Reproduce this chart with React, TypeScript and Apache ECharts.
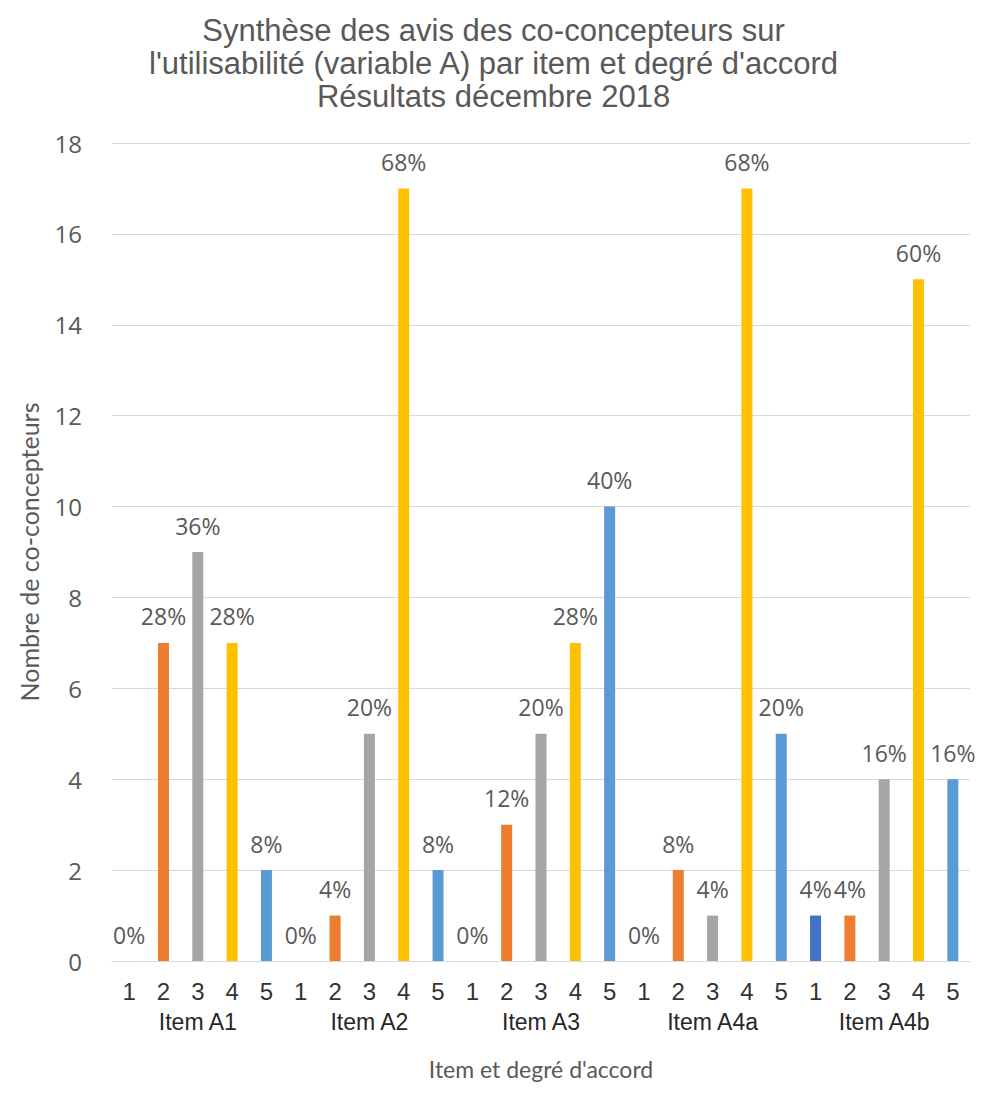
import React, { useEffect, useRef } from "react";
import * as echarts from "echarts";

const items = ["Item A1", "Item A2", "Item A3", "Item A4a", "Item A4b"];
const degrees = ["1", "2", "3", "4", "5"];
const countsA1 = [0, 7, 9, 7, 2];
const countsA2 = [0, 1, 5, 17, 2];
const countsA3 = [0, 3, 5, 7, 10];
const countsA4a = [0, 2, 1, 17, 5];
const countsA4b = [1, 1, 4, 15, 4];
const pctA1 = ["0%", "28%", "36%", "28%", "8%"];
const pctA2 = ["0%", "4%", "20%", "68%", "8%"];
const pctA3 = ["0%", "12%", "20%", "28%", "40%"];
const pctA4a = ["0%", "8%", "4%", "68%", "20%"];
const pctA4b = ["4%", "4%", "16%", "60%", "16%"];
const degreeColors = ["#4472C4", "#ED7D31", "#A5A5A5", "#FFC000", "#5B9BD5"];

export default function App() {
  const ref = useRef<HTMLDivElement>(null);
  useEffect(() => {
    if (!ref.current) return;
    const chart = echarts.init(ref.current, undefined, { renderer: "svg" });
    const allCounts = [countsA1, countsA2, countsA3, countsA4a, countsA4b];
    const allPct = [pctA1, pctA2, pctA3, pctA4a, pctA4b];
    const cats: string[] = [];
    const data: any[] = [];
    allCounts.forEach((arr, gi) => {
      arr.forEach((v, di) => {
        cats.push(degrees[di]);
        data.push({
          value: v,
          pct: allPct[gi][di],
          itemStyle: { color: degreeColors[di] },
        });
      });
    });
    chart.setOption({
      animation: false,
      backgroundColor: "#fff",
      title: {
        text: "Synthèse des avis des co-concepteurs sur\nl'utilisabilité (variable A) par item et degré d'accord\nRésultats décembre 2018",
        left: "center",
        top: 6,
        padding: 0,
        textStyle: {
          fontFamily: "Liberation Sans, Arial, sans-serif",
          fontSize: 31,
          fontWeight: "normal",
          color: "#595959",
          lineHeight: 33,
        },
      },
      grid: { left: 102, right: 9, top: 135, bottom: 113, containLabel: false },
      xAxis: [
        {
          type: "category",
          data: cats,
          axisLine: { lineStyle: { color: "#D9D9D9" } },
          axisTick: { show: false },
          axisLabel: {
            interval: 0,
            fontFamily: "Liberation Sans, Arial, sans-serif",
            fontSize: 24,
            color: "#333333",
            margin: 18,
          },
        },
        {
          type: "category",
          data: items,
          position: "bottom",
          offset: 48,
          axisLine: { show: false },
          axisTick: { show: false },
          axisLabel: {
            interval: 0,
            fontFamily: "Liberation Sans, Arial, sans-serif",
            fontSize: 23,
            color: "#262626",
            margin: 1,
          },
          name: "Item et degré d'accord",
          nameLocation: "middle",
          nameGap: 48,
          nameTextStyle: {
            fontFamily: "Lato, Open Sans, sans-serif",
            fontSize: 23,
            color: "#595959",
          },
        },
      ],
      yAxis: {
        type: "value",
        min: 0,
        max: 18,
        interval: 2,
        axisLine: { show: false },
        axisTick: { show: false },
        splitLine: { lineStyle: { color: "#D9D9D9" } },
        axisLabel: {
          fontFamily: "Open Sans, sans-serif",
          fontSize: 24,
          color: "#595959",
          margin: 30,
        },
        name: "Nombre de co-concepteurs",
        nameLocation: "middle",
        nameGap: 71,
        nameTextStyle: {
          fontFamily: "Lato, Open Sans, sans-serif",
          fontSize: 25,
          color: "#595959",
        },
      },
      series: [
        {
          type: "bar",
          xAxisIndex: 0,
          barWidth: 11,
          data,
          label: {
            show: true,
            position: "top",
            distance: 15,
            fontFamily: "Open Sans, sans-serif",
            fontSize: 23,
            color: "#595959",
            formatter: (p: any) => p.data.pct,
          },
        },
      ],
    });
    return () => chart.dispose();
  }, []);
  return <div ref={ref} style={{ width: 971, height: 1077 }} />;
}
